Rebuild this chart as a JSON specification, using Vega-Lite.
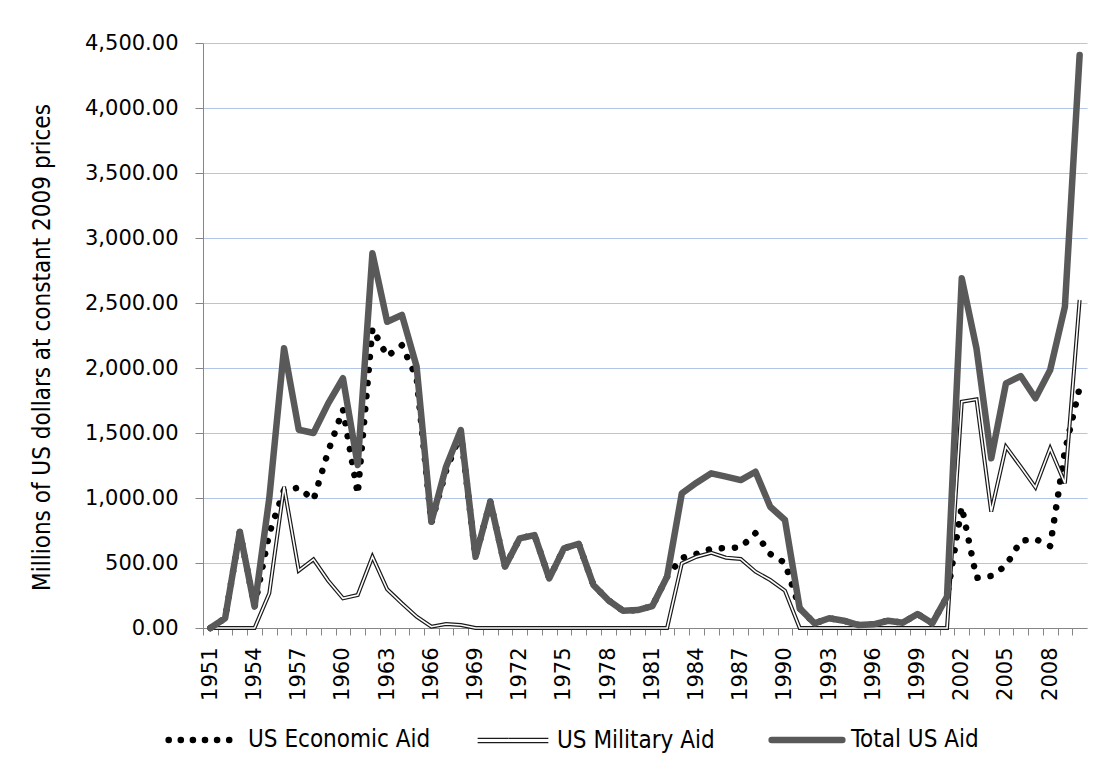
{
  "$schema": "https://vega.github.io/schema/vega-lite/v6.json",
  "width": 884,
  "height": 585,
  "autosize": "none",
  "padding": {"left": 203, "top": 43, "right": 15, "bottom": 145},
  "background": "white",
  "config": {"view": {"stroke": null}},
  "data": {"values": [
    {"Year": 1951, "US Economic Aid": 0, "US Military Aid": 0, "Total US Aid": 0},
    {"Year": 1952, "US Economic Aid": 75, "US Military Aid": 0, "Total US Aid": 75},
    {"Year": 1953, "US Economic Aid": 741, "US Military Aid": 0, "Total US Aid": 741},
    {"Year": 1954, "US Economic Aid": 164, "US Military Aid": 0, "Total US Aid": 164},
    {"Year": 1955, "US Economic Aid": 730, "US Military Aid": 267, "Total US Aid": 1000},
    {"Year": 1956, "US Economic Aid": 1060, "US Military Aid": 1087, "Total US Aid": 2152},
    {"Year": 1957, "US Economic Aid": 1080, "US Military Aid": 441, "Total US Aid": 1525},
    {"Year": 1958, "US Economic Aid": 985, "US Military Aid": 528, "Total US Aid": 1500},
    {"Year": 1959, "US Economic Aid": 1360, "US Military Aid": 364, "Total US Aid": 1728},
    {"Year": 1960, "US Economic Aid": 1680, "US Military Aid": 228, "Total US Aid": 1921},
    {"Year": 1961, "US Economic Aid": 1030, "US Military Aid": 254, "Total US Aid": 1254},
    {"Year": 1962, "US Economic Aid": 2305, "US Military Aid": 548, "Total US Aid": 2882},
    {"Year": 1963, "US Economic Aid": 2090, "US Military Aid": 298, "Total US Aid": 2356},
    {"Year": 1964, "US Economic Aid": 2175, "US Military Aid": 190, "Total US Aid": 2408},
    {"Year": 1965, "US Economic Aid": 1925, "US Military Aid": 87, "Total US Aid": 2010},
    {"Year": 1966, "US Economic Aid": 808, "US Military Aid": 10, "Total US Aid": 818},
    {"Year": 1967, "US Economic Aid": 1210, "US Military Aid": 31, "Total US Aid": 1241},
    {"Year": 1968, "US Economic Aid": 1500, "US Military Aid": 23, "Total US Aid": 1523},
    {"Year": 1969, "US Economic Aid": 548, "US Military Aid": 0, "Total US Aid": 548},
    {"Year": 1970, "US Economic Aid": 972, "US Military Aid": 0, "Total US Aid": 972},
    {"Year": 1971, "US Economic Aid": 472, "US Military Aid": 0, "Total US Aid": 472},
    {"Year": 1972, "US Economic Aid": 690, "US Military Aid": 0, "Total US Aid": 690},
    {"Year": 1973, "US Economic Aid": 715, "US Military Aid": 0, "Total US Aid": 715},
    {"Year": 1974, "US Economic Aid": 382, "US Military Aid": 0, "Total US Aid": 382},
    {"Year": 1975, "US Economic Aid": 613, "US Military Aid": 0, "Total US Aid": 613},
    {"Year": 1976, "US Economic Aid": 648, "US Military Aid": 0, "Total US Aid": 648},
    {"Year": 1977, "US Economic Aid": 331, "US Military Aid": 0, "Total US Aid": 331},
    {"Year": 1978, "US Economic Aid": 215, "US Military Aid": 0, "Total US Aid": 215},
    {"Year": 1979, "US Economic Aid": 133, "US Military Aid": 0, "Total US Aid": 133},
    {"Year": 1980, "US Economic Aid": 138, "US Military Aid": 0, "Total US Aid": 138},
    {"Year": 1981, "US Economic Aid": 169, "US Military Aid": 0, "Total US Aid": 169},
    {"Year": 1982, "US Economic Aid": 395, "US Military Aid": 0, "Total US Aid": 395},
    {"Year": 1983, "US Economic Aid": 539, "US Military Aid": 497, "Total US Aid": 1036},
    {"Year": 1984, "US Economic Aid": 570, "US Military Aid": 548, "Total US Aid": 1118},
    {"Year": 1985, "US Economic Aid": 610, "US Military Aid": 579, "Total US Aid": 1190},
    {"Year": 1986, "US Economic Aid": 615, "US Military Aid": 541, "Total US Aid": 1164},
    {"Year": 1987, "US Economic Aid": 620, "US Military Aid": 531, "Total US Aid": 1138},
    {"Year": 1988, "US Economic Aid": 730, "US Military Aid": 433, "Total US Aid": 1202},
    {"Year": 1989, "US Economic Aid": 570, "US Military Aid": 369, "Total US Aid": 933},
    {"Year": 1990, "US Economic Aid": 500, "US Military Aid": 287, "Total US Aid": 831},
    {"Year": 1991, "US Economic Aid": 151, "US Military Aid": 0, "Total US Aid": 151},
    {"Year": 1992, "US Economic Aid": 36, "US Military Aid": 0, "Total US Aid": 36},
    {"Year": 1993, "US Economic Aid": 75, "US Military Aid": 0, "Total US Aid": 75},
    {"Year": 1994, "US Economic Aid": 56, "US Military Aid": 0, "Total US Aid": 56},
    {"Year": 1995, "US Economic Aid": 23, "US Military Aid": 0, "Total US Aid": 23},
    {"Year": 1996, "US Economic Aid": 28, "US Military Aid": 0, "Total US Aid": 28},
    {"Year": 1997, "US Economic Aid": 56, "US Military Aid": 0, "Total US Aid": 56},
    {"Year": 1998, "US Economic Aid": 41, "US Military Aid": 0, "Total US Aid": 41},
    {"Year": 1999, "US Economic Aid": 108, "US Military Aid": 0, "Total US Aid": 108},
    {"Year": 2000, "US Economic Aid": 36, "US Military Aid": 0, "Total US Aid": 36},
    {"Year": 2001, "US Economic Aid": 241, "US Military Aid": 0, "Total US Aid": 241},
    {"Year": 2002, "US Economic Aid": 933, "US Military Aid": 1741, "Total US Aid": 2690},
    {"Year": 2003, "US Economic Aid": 385, "US Military Aid": 1759, "Total US Aid": 2150},
    {"Year": 2004, "US Economic Aid": 400, "US Military Aid": 895, "Total US Aid": 1305},
    {"Year": 2005, "US Economic Aid": 480, "US Military Aid": 1395, "Total US Aid": 1882},
    {"Year": 2006, "US Economic Aid": 670, "US Military Aid": 1241, "Total US Aid": 1938},
    {"Year": 2007, "US Economic Aid": 685, "US Military Aid": 1082, "Total US Aid": 1767},
    {"Year": 2008, "US Economic Aid": 630, "US Military Aid": 1382, "Total US Aid": 1985},
    {"Year": 2009, "US Economic Aid": 1360, "US Military Aid": 1113, "Total US Aid": 2472},
    {"Year": 2010, "US Economic Aid": 1850, "US Military Aid": 2523, "Total US Aid": 4408}
  ]},
  "transform": [
    {"fold": ["US Economic Aid", "US Military Aid", "Total US Aid"], "as": ["Series", "Value"]}
  ],
  "encoding": {
    "x": {
      "field": "Year", "type": "quantitative",
      "scale": {"domain": [1950.5, 2010.5], "nice": false, "zero": false},
      "axis": {
        "title": null,
        "values": [1951,1952,1953,1954,1955,1956,1957,1958,1959,1960,1961,1962,1963,1964,1965,1966,1967,1968,1969,1970,1971,1972,1973,1974,1975,1976,1977,1978,1979,1980,1981,1982,1983,1984,1985,1986,1987,1988,1989,1990,1991,1992,1993,1994,1995,1996,1997,1998,1999,2000,2001,2002,2003,2004,2005,2006,2007,2008,2009,2010,2011],
        "tickOffset": -7.367,
        "labelOffset": 7.367,
        "labelExpr": "datum.value <= 2008 && (datum.value - 1951) % 3 === 0 ? '' + datum.value : ''",
        "labelAngle": 270,
        "labelFont": "DejaVu Sans",
        "labelFontSize": 21,
        "labelColor": "#000000",
        "labelPadding": 12,
        "labelOverlap": false,
        "labelFlush": false,
        "labelBound": false,
        "tickSize": 7,
        "tickColor": "#868686",
        "tickWidth": 1,
        "domainColor": "#868686",
        "domainWidth": 1,
        "grid": false
      }
    },
    "y": {
      "field": "Value", "type": "quantitative",
      "scale": {"domain": [0, 4500], "nice": false},
      "axis": {
        "title": "Millions of US dollars at constant 2009 prices",
        "titleFont": "DejaVu Sans Condensed, sans-serif",
        "titleFontSize": 24,
        "titleFontWeight": "normal",
        "titleColor": "#000000",
        "titleX": -161,
        "titleY": 304,
        "titleBaseline": "middle",
        "titleAngle": 270,
        "values": [0, 500, 1000, 1500, 2000, 2500, 3000, 3500, 4000, 4500],
        "format": ",.2f",
        "labelFont": "DejaVu Sans",
        "labelFontSize": 21,
        "labelColor": "#000000",
        "labelPadding": 17,
        "tickSize": 8,
        "tickColor": "#868686",
        "domainColor": "#868686",
        "grid": true,
        "gridColor": "#b4c6e7",
        "gridWidth": 1.2
      }
    }
  },
  "layer": [
    {
      "transform": [{"filter": "datum.Series === 'US Economic Aid'"}],
      "mark": {"type": "line", "strokeDash": [0.1, 13], "strokeCap": "round", "strokeWidth": 6.5},
      "encoding": {
        "color": {
          "field": "Series", "type": "nominal",
          "scale": {"domain": ["US Economic Aid", "US Military Aid", "Total US Aid"], "range": ["#000000", "#1a1a1a", "#595959"]},
          "legend": {
            "orient": "none",
            "legendX": -11,
            "legendY": 685,
            "direction": "horizontal",
            "title": null,
            "symbolType": "stroke",
            "symbolSize": 5000,
            "symbolStrokeWidth": 6,
            "labelFont": "DejaVu Sans Condensed, sans-serif",
            "labelFontSize": 24,
            "labelColor": "#000000",
            "labelOffset": 32,
            "labelLimit": 400,
            "columnPadding": 43,
            "encode": {
              "symbols": {
                "update": {
                  "shape": {"signal": "datum.value === 'US Military Aid' ? 'M-1,-0.06H1M-1,0.06H1' : 'stroke'"},
                  "strokeWidth": {"signal": "datum.value === 'US Military Aid' ? 1.4 : 6.5"},
                  "strokeDash": {"signal": "datum.value === 'US Economic Aid' ? [0.1, 12] : [1, 0]"},
                  "strokeCap": {"signal": "datum.value === 'US Military Aid' ? 'butt' : 'round'"},
                  "stroke": {"signal": "datum.value === 'US Economic Aid' ? '#000000' : datum.value === 'US Military Aid' ? '#333333' : '#595959'"}
                }
              }
            }
          }
        }
      }
    },
    {
      "transform": [{"filter": "datum.Series === 'US Military Aid'"}],
      "mark": {"type": "line", "strokeWidth": 4, "strokeJoin": "miter"},
      "encoding": {
        "color": {
          "field": "Series", "type": "nominal",
          "scale": {"domain": ["US Economic Aid", "US Military Aid", "Total US Aid"], "range": ["#000000", "#1a1a1a", "#595959"]}
        }
      }
    },
    {
      "transform": [{"filter": "datum.Series === 'US Military Aid'"}],
      "mark": {"type": "line", "strokeWidth": 1.6, "color": "#ffffff", "strokeJoin": "miter"}
    },
    {
      "transform": [{"filter": "datum.Series === 'Total US Aid'"}],
      "mark": {"type": "line", "strokeWidth": 6.5, "strokeJoin": "round", "strokeCap": "round"},
      "encoding": {
        "color": {
          "field": "Series", "type": "nominal",
          "scale": {"domain": ["US Economic Aid", "US Military Aid", "Total US Aid"], "range": ["#000000", "#1a1a1a", "#595959"]}
        }
      }
    }
  ]
}
